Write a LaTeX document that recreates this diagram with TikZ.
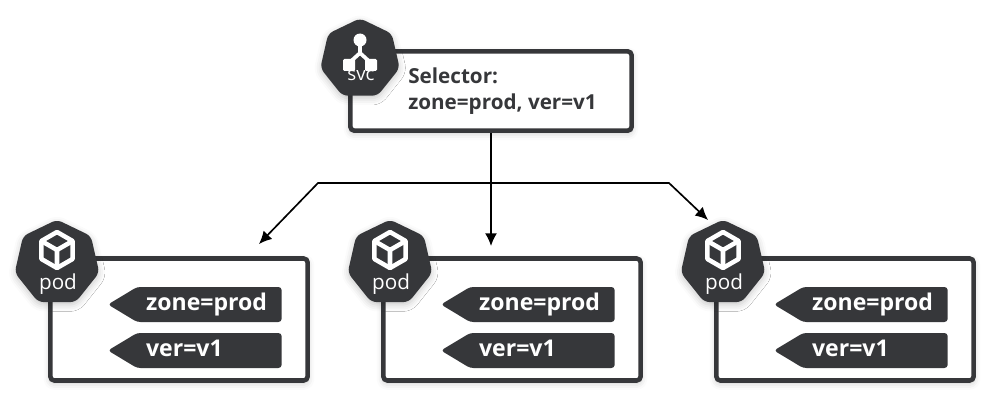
\documentclass[tikz,border=0pt]{standalone}
\usepackage{fontspec}
\setmainfont{Open Sans}
\usetikzlibrary{positioning,calc,arrows.meta,shapes.geometric,shapes.symbols,shadows.blur}
\definecolor{kubedark}{HTML}{36373A}

\begin{document}
\begin{tikzpicture}[
  x = 0.75pt,
  y = 0.75pt,
  soft/.style={blur shadow={shadow xshift=0pt,shadow yshift=-2pt,shadow blur radius=5pt,shadow opacity=22}},
  box/.style={draw=kubedark,fill=white,line width=3.4pt,rounded corners=3pt,inner sep=0pt,soft},
  hepta/.style={regular polygon,regular polygon sides=7,fill=kubedark,inner sep=0pt,
    rounded corners=4pt,soft},
  tag/.style={signal,signal to=west,signal pointer angle=62,fill=kubedark,text=white,
    rounded corners=2.5pt,inner xsep=6.75pt,inner ysep=0pt,minimum height=26.25pt,text width=95pt,
    text height=12pt,text depth=3pt,align=left,font=\bfseries\fontsize{17.3}{18}\selectfont},
  link/.style={black,line width=1.25pt},
  arrow/.style={link,-{Latex[length=9.5pt,width=9pt]}},
  ]
  \useasboundingbox (0,-410) rectangle (1006,0);

  % service
  \node [box,minimum width=211pt,minimum height=59.5pt] (svcbox) at (491,-91) {};
  \node [hepta,minimum size=61pt] (svchex) at (360,-59) {};
  \node [text=white,font=\fontsize{14}{14}\selectfont] (svclabel) at (361,-76) {svc};
  \node [anchor=west,inner sep=0pt,align=left,text=kubedark,font=\bfseries\fontsize{15.5}{19}\selectfont]
    (selector) at (408,-91) {Selector:\\zone=prod, ver=v1};
  \draw [white,line width=2.8pt,line cap=round] (360,-40) -- (360,-53) -- (349,-63);
  \draw [white,line width=2.8pt,line cap=round] (360,-53) -- (371,-63);
  \fill [white] (360,-40) circle (6.5);
  \fill [white,rounded corners=1pt] (343,-59) rectangle +(12,-12);
  \fill [white,rounded corners=1pt] (365,-59) rectangle +(12,-12);

  % pods
  \foreach \i/\dx in {1/0,2/333,3/666} {
    \node [box,minimum width=193pt,minimum height=91.5pt] (podbox\i) at (179+\dx,-319.5) {};
    \node [hepta,minimum size=65pt] (podhex\i) at (57+\dx,-263) {};
    \node [text=white,font=\fontsize{15.5}{17}\selectfont] (podlabel\i) at (58+\dx,-284) {pod};
    \node [tag,anchor=east] (zone\i) at (282+\dx,-304.5) {zone=prod};
    \node [tag,anchor=east] (ver\i) at (282+\dx,-350.5) {ver=v1};
    \draw [white,line width=3.4pt,line join=round]
      (57+\dx,-232) -- ++(-30:18) -- ++(-90:18) -- ++(-150:18) -- ++(150:18) -- ++(90:18) -- cycle;
    \draw [white,line width=3.4pt,line join=round]
      (57+\dx-15.6,-241) -- (57+\dx,-250) -- (57+\dx+15.6,-241) (57+\dx,-250) -- (57+\dx,-268);
  }

  % connectors
  \coordinate (split) at (491,-183);
  \coordinate (bendleft) at (318,-183);
  \coordinate (bendright) at (669,-183);
  \coordinate (endleft) at (259,-244);
  \coordinate (endmid) at (491,-246);
  \coordinate (endright) at (708,-220);
  \draw [arrow] (svcbox.south) -- (endmid);
  \draw [arrow] (split) -- (bendleft) -- (endleft);
  \draw [arrow] (split) -- (bendright) -- (endright);
\end{tikzpicture}
\end{document}
